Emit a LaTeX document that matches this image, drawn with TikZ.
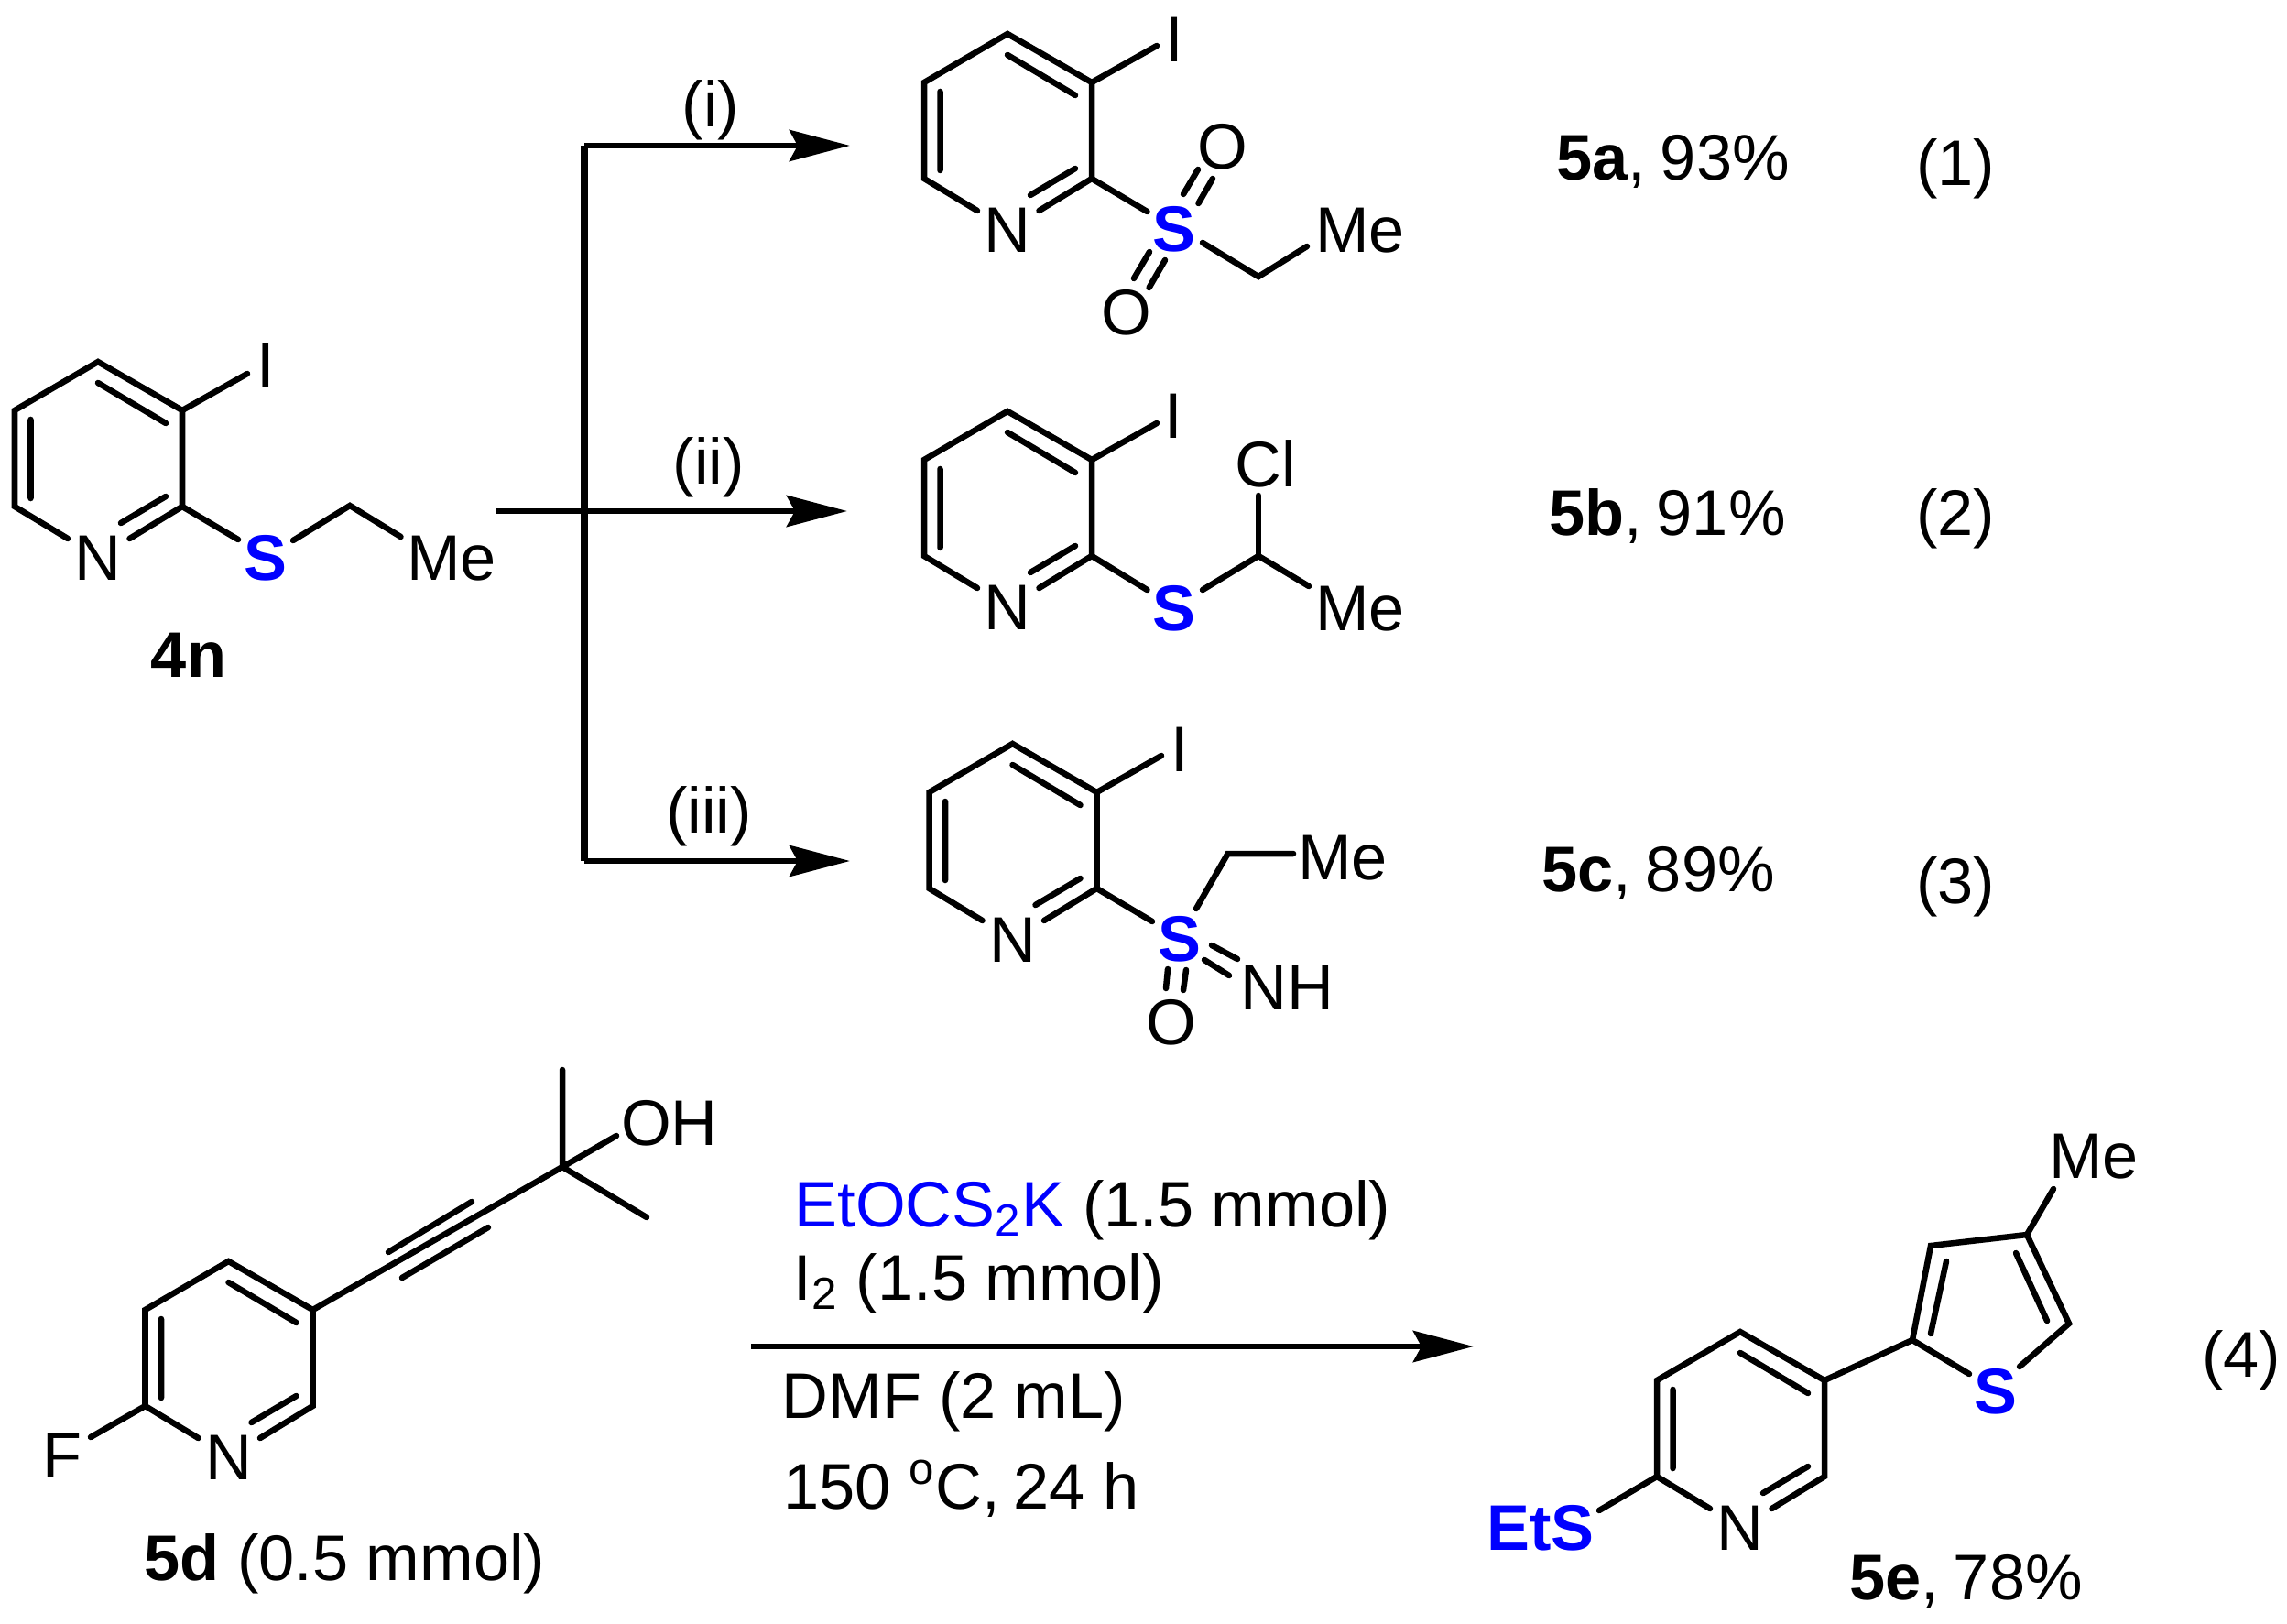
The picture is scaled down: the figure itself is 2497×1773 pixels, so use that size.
\documentclass[tikz,border=0pt]{standalone}
\usepackage{fontspec}
\setmainfont{Liberation Sans}
\usetikzlibrary{arrows.meta}
\definecolor{sblue}{RGB}{0,0,255}
\tikzset{
  bond/.style={line width=1.85pt,line cap=round,line join=miter,black},
  rxn/.style={line width=1.9pt,black,-{Stealth[length=0.66cm,width=0.34cm,inset=0.09cm]}},
  rule/.style={line width=2.3pt,black},
  atom/.style={inner sep=0pt,text height=0.5cm,text depth=0pt,font=\fontsize{20}{24}\selectfont},
  satom/.style={atom,text=sblue,font=\fontsize{20}{24}\selectfont\bfseries},
  label/.style={inner sep=0pt,anchor=base west,font=\fontsize{20}{24}\selectfont},
}
% pyridine ring: name, x and y of the top vertex
\newcommand{\pyridinering}[3]{%
  \begin{scope}[shift={(#2,#3)}]
    \coordinate (#1top) at (0,0);
    \coordinate (#1ur) at (92,53);
    \coordinate (#1lr) at (92,158);
    \coordinate (#1ll) at (-91,158);
    \coordinate (#1ul) at (-91,53);
    \node[atom] (#1N) at (0,213) {N};
    \coordinate (#1a) at (-33,193);
    \coordinate (#1b) at (34.5,193);
    \draw[bond] (#1a) -- (#1ll) -- (#1ul) -- (#1top) -- (#1ur) -- (#1lr) -- (#1b);
    \coordinate (#1c) at (0,23); \coordinate (#1d) at (74,67);
    \coordinate (#1e) at (-73.5,63); \coordinate (#1f) at (-73.5,149);
    \coordinate (#1g) at (25,176); \coordinate (#1h) at (74,147);
    \draw[bond] (#1c) -- (#1d) (#1e) -- (#1f) (#1g) -- (#1h);
  \end{scope}}
\begin{document}
\begin{tikzpicture}[x=0.01cm,y=-0.01cm]
\useasboundingbox (0,0) rectangle (2497,1773);

% 4n
\pyridinering{p}{107}{395}
\node[atom] (pI) at (290,398) {I};
\node[satom] (pS) at (290,608) {S};
\node[atom] (pMe) at (493,608) {Me};
\coordinate (p1) at (270,408);
\coordinate (p2) at (260,589);
\coordinate (p3) at (320,590);
\coordinate (p4) at (382,552);
\coordinate (p5) at (437.5,586);
\draw[bond] (pur) -- (p1);
\draw[bond] (plr) -- (p2);
\draw[bond] (p3) -- (p4) -- (p5);
\node[atom,font=\fontsize{20}{24}\selectfont\bfseries] (l4n) at (206,714) {4n};

% branching arrows
\coordinate (vt) at (638,159);
\coordinate (vb) at (638,940);
\coordinate (hs) at (541,558);
\coordinate (e1) at (928,159);
\coordinate (e2) at (925,558);
\coordinate (e3) at (928,940);
\draw[rule] (vt) -- (vb);
\draw[rxn] (vt) -- (e1);
\draw[rxn] (hs) -- (e2);
\draw[rxn] (vb) -- (e3);
\node[atom] (ci) at (776,113) {(i)};
\node[atom] (cii) at (774,503) {(ii)};
\node[atom] (ciii) at (774,884) {(iii)};

% 5a
\pyridinering{a}{1100}{37}
\node[atom] (aI) at (1282,42) {I};
\node[satom] (aS) at (1282,249) {S};
\node[atom] (aO1) at (1335,159) {O};
\node[atom] (aO2) at (1230,340) {O};
\node[atom] (aMe) at (1485,250) {Me};
\coordinate (a1) at (1263,50);
\coordinate (a2) at (1252.5,231);
\coordinate (a3) at (1313,265);
\coordinate (a4) at (1374,302);
\coordinate (a5) at (1427,269);
\coordinate (a6) at (1292,212); \coordinate (a7) at (1308,185);
\coordinate (a8) at (1308.5,222); \coordinate (a9) at (1324,195);
\coordinate (a10) at (1238,304); \coordinate (a11) at (1255,275);
\coordinate (a12) at (1254.6,314); \coordinate (a13) at (1272,284);
\draw[bond] (aur) -- (a1);
\draw[bond] (alr) -- (a2);
\draw[bond] (a3) -- (a4) -- (a5);
\draw[bond] (a6) -- (a7) (a8) -- (a9) (a10) -- (a11) (a12) -- (a13);

% 5b
\pyridinering{b}{1100}{449}
\node[atom] (bI) at (1281.6,453) {I};
\node[satom] (bS) at (1281.6,663) {S};
\node[atom] (bCl) at (1381.5,506) {Cl};
\node[atom] (bMe) at (1485,663) {Me};
\coordinate (b1) at (1263,462);
\coordinate (b2) at (1252.5,644);
\coordinate (b3) at (1313,644);
\coordinate (b4) at (1374,607);
\coordinate (b5) at (1374,541);
\coordinate (b6) at (1429,640);
\draw[bond] (bur) -- (b1);
\draw[bond] (blr) -- (b2);
\draw[bond] (b3) -- (b4) -- (b6);
\draw[bond] (b4) -- (b5);

% 5c
\pyridinering{c}{1105.5}{812}
\node[atom] (cI) at (1288,817) {I};
\node[satom] (cS) at (1288,1024) {S};
\node[atom] (cMe) at (1466,935) {Me};
\node[atom] (cNH) at (1405,1077) {NH};
\node[atom] (cO) at (1279,1115) {O};
\coordinate (c1) at (1268,825);
\coordinate (c2) at (1258,1006);
\coordinate (c3) at (1306,992);
\coordinate (c4) at (1340.5,932);
\coordinate (c5) at (1412,932);
\coordinate (c6) at (1323,1032); \coordinate (c7) at (1351,1047);
\coordinate (c8) at (1315,1048); \coordinate (c9) at (1342,1065);
\coordinate (c10) at (1275,1058); \coordinate (c11) at (1273,1079);
\coordinate (c12) at (1295,1059); \coordinate (c13) at (1292,1081);
\draw[bond] (cur) -- (c1);
\draw[bond] (clr) -- (c2);
\draw[bond] (c3) -- (c4) -- (c5);
\draw[bond] (c6) -- (c7) (c8) -- (c9) (c10) -- (c11) (c12) -- (c13);

% 5d
\pyridinering{d}{249.5}{1377}
\node[atom] (dF) at (68,1588) {F};
\node[atom] (dOH) at (731,1225) {OH};
\coordinate (d1) at (99,1569);
\coordinate (d2) at (614,1274);
\coordinate (d3) at (614,1168);
\coordinate (d4) at (673,1240);
\coordinate (d5) at (706,1329);
\coordinate (d6) at (424,1367); \coordinate (d7) at (515,1312);
\coordinate (d8) at (439,1395); \coordinate (d9) at (533,1340);
\draw[bond] (dll) -- (d1);
\draw[bond] (dur) -- (d2);
\draw[bond] (d3) -- (d2) (d4) -- (d2) (d5) -- (d2);
\draw[bond] (d6) -- (d7) (d8) -- (d9);
\node[label] (l5d) at (157,1725) {\textbf{5d} (0.5 mmol)};

% conditions
\coordinate (m1) at (820,1470);
\coordinate (m2) at (1609,1470);
\draw[rxn] (m1) -- (m2);
\node[label] (t1) at (867,1339) {\textcolor{sblue}{EtOCS\textsubscript{2}K} (1.5 mmol)};
\node[label] (t2) at (866,1419) {I\textsubscript{2} (1.5 mmol)};
\node[label] (t3) at (853,1548) {DMF (2 mL)};
\node[label] (t4) at (855,1647) {150 \textsuperscript{o}C,\kern-0.05cm{} 24 h};

% 5e
\pyridinering{e}{1900}{1454}
\node[atom,text=sblue,font=\fontsize{20}{24}\selectfont\bfseries] (eEtS) at (1682,1667) {EtS};
\node[satom] (eS) at (2179,1518) {S};
\node[atom] (eMe) at (2286,1261) {Me};
\coordinate (e4) at (1746,1649);
\coordinate (t2c) at (2088,1463);
\coordinate (t3c) at (2108,1360);
\coordinate (t4c) at (2213,1348);
\coordinate (t5c) at (2259,1445);
\coordinate (ts1) at (2150,1500);
\coordinate (ts2) at (2205,1492);
\coordinate (ti1) at (2108,1456); \coordinate (ti2) at (2125,1377);
\coordinate (ti3) at (2201,1368); \coordinate (ti4) at (2235,1442);
\coordinate (tm) at (2242,1298);
\draw[bond] (ell) -- (e4);
\draw[bond] (eur) -- (t2c);
\draw[bond] (ts1) -- (t2c) -- (t3c) -- (t4c) -- (t5c) -- (ts2);
\draw[bond] (ti1) -- (ti2) (ti3) -- (ti4);
\draw[bond] (t4c) -- (tm);
\node[label] (l5e) at (2019,1746) {\textbf{5e},\kern-0.04cm{} 78\%};

% yields and equation numbers
\node[label] (y1) at (1699,197) {\textbf{5a},\kern-0.04cm{} 93\%};
\node[label] (y2) at (1691,584) {\textbf{5b},\kern-0.04cm{} 91\%};
\node[label] (y3) at (1683,973) {\textbf{5c},\kern-0.04cm{} 89\%};
\node[atom] (q1) at (2135,177) {(1)};
\node[atom] (q2) at (2135,559) {(2)};
\node[atom] (q3) at (2135,961) {(3)};
\node[atom] (q4) at (2447,1478) {(4)};
\end{tikzpicture}
\end{document}
